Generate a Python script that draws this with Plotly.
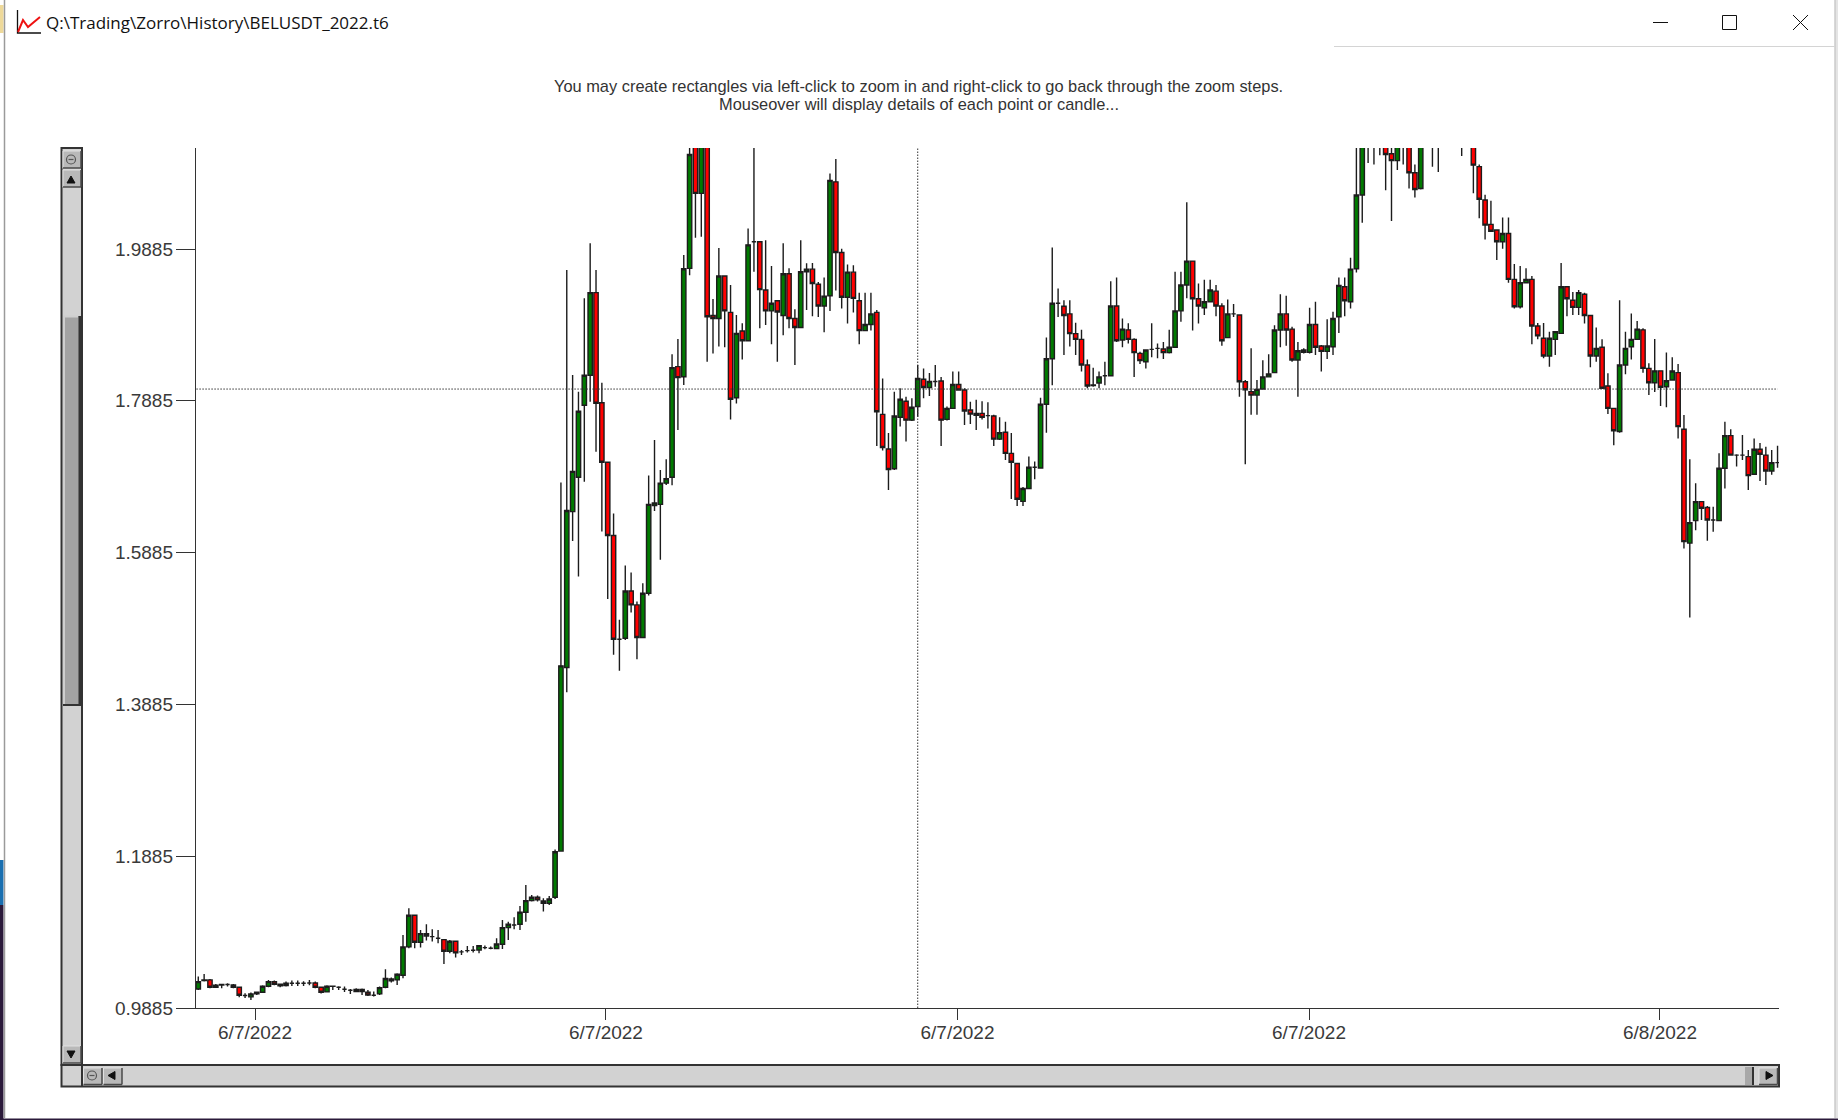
import plotly.graph_objects as go

title_text = r"Q:\Trading\Zorro\History\BELUSDT_2022.t6"
note_line1 = "You may create rectangles via left-click to zoom in and right-click to go back through the zoom steps."
note_line2 = "Mouseover will display details of each point or candle..."

y_tick_values = [0.9885, 1.1885, 1.3885, 1.5885, 1.7885, 1.9885]
y_tick_labels = ["0.9885", "1.1885", "1.3885", "1.5885", "1.7885", "1.9885"]
x_tick_values = [9.7, 69.7, 129.8, 189.9, 249.9]
x_tick_labels = ["6/7/2022", "6/7/2022", "6/7/2022", "6/7/2022", "6/8/2022"]
crosshair_bar = 123
crosshair_price = 1.804

opens = [
1.0136,1.0246,1.0255,1.0158,1.0189,1.0194,1.0189,1.0158,1.0049,1.0031,
1.0071,1.0093,1.0172,1.0233,1.0198,1.018,1.0211,1.0211,1.0211,1.0215,
1.0215,1.0158,1.0097,1.0172,1.0158,1.0132,1.0119,1.0101,1.0128,1.0093,
1.0053,1.0071,1.0158,1.0268,1.0255,1.0316,1.069,1.1107,1.0751,1.0865,
1.0826,1.0804,1.0786,1.0633,1.0764,1.0624,1.0641,1.0646,1.065,1.0681,
1.0672,1.0668,1.0725,1.0944,1.0979,1.0988,1.1146,1.13,1.1344,1.1295,
1.1265,1.1344,1.1952,1.4371,1.6425,1.6877,1.7826,1.8221,1.931,1.786,
1.7075,1.611,1.4744,1.4757,1.538,1.5196,1.4766,1.535,1.6505,1.652,
1.680,1.6877,1.8335,1.8203,1.963,2.14,2.0618,2.14,1.901,1.897,
1.953,1.905,1.7926,1.8805,1.8677,1.998,1.998,1.9345,1.907,1.9204,
1.901,1.956,1.897,1.885,1.9586,1.962,1.942,1.9134,1.927,2.077,
1.984,1.925,1.958,1.9204,1.881,1.889,1.905,1.7707,1.725,1.699,
1.7668,1.788,1.763,1.781,1.817,1.806,1.814,1.8146,1.764,1.7786,
1.81,1.8027,1.7764,1.7694,1.772,1.769,1.7685,1.738,1.747,1.7193,
1.706,1.656,1.673,1.701,1.70,1.784,1.844,1.917,1.913,1.903,
1.877,1.8695,1.8357,1.8094,1.812,1.8215,1.8216,1.9134,1.8686,1.882,
1.8695,1.851,1.84,1.8563,1.8576,1.8567,1.852,1.859,1.907,1.941,
1.9726,1.923,1.9112,1.919,1.933,1.9134,1.8717,1.903,1.9015,1.8137,
1.8005,1.796,1.804,1.82,1.8256,1.8818,1.903,1.883,1.8423,1.8554,
1.8524,1.889,1.8607,1.8537,1.8598,1.8993,1.9388,1.919,1.9625,2.0596,
2.14,2.14,2.14,2.14,2.114,2.105,2.14,2.14,2.089,2.0683,
2.14,2.14,2.14,2.14,2.14,2.14,2.14,2.14,2.14,2.097,
2.053,2.021,2.0135,1.998,2.009,1.9485,1.9125,1.944,1.9485,1.887,
1.871,1.8475,1.8695,1.8774,1.9388,1.921,1.9116,1.929,1.901,1.8475,
1.859,1.808,1.7786,1.748,1.8357,1.8598,1.8695,1.882,1.8313,1.8124,
1.828,1.807,1.816,1.8256,1.751,1.601,1.6307,1.6557,1.648,1.6315,
1.6307,1.6996,1.7426,1.717,1.717,1.715,1.6917,1.7246,1.717,1.696,1.707]

closes = [
1.0233,1.0255,1.0158,1.0185,1.0194,1.0194,1.0158,1.0053,1.0049,1.0071,
1.0093,1.0172,1.0233,1.0198,1.0176,1.0211,1.0211,1.0211,1.0211,1.0215,
1.0158,1.0093,1.0172,1.017,1.0158,1.0132,1.0119,1.0128,1.0101,1.0057,
1.0053,1.0154,1.0273,1.0242,1.033,1.069,1.1107,1.0751,1.0865,1.0834,
1.0826,1.0804,1.0633,1.0764,1.0611,1.0624,1.0641,1.0646,1.0707,1.0681,
1.0672,1.0729,1.0944,1.0988,1.0979,1.1146,1.13,1.1344,1.1309,1.1265,
1.1322,1.1943,1.4393,1.6439,1.6956,1.7747,1.8221,1.931,1.7852,1.7075,
1.611,1.4744,1.4744,1.538,1.5196,1.4766,1.535,1.652,1.654,1.680,
1.686,1.8322,1.819,1.9625,2.1131,2.0618,2.14,1.8993,1.897,1.953,
1.907,1.7905,1.8774,1.8677,1.994,1.998,1.935,1.907,1.917,1.9055,
1.956,1.897,1.885,1.9586,1.962,1.943,1.9134,1.9265,2.079,1.984,
1.925,1.958,1.9235,1.881,1.889,1.903,1.774,1.727,1.698,1.7685,
1.7905,1.763,1.780,1.818,1.806,1.814,1.814,1.763,1.7786,1.81,
1.8027,1.775,1.771,1.772,1.7667,1.769,1.738,1.7465,1.7193,1.7075,
1.6588,1.673,1.701,1.701,1.784,1.844,1.917,1.917,1.901,1.877,
1.8695,1.8357,1.808,1.8086,1.82,1.8215,1.9134,1.8677,1.883,1.8695,
1.852,1.8414,1.8554,1.8563,1.8576,1.852,1.859,1.907,1.941,1.9726,
1.923,1.9134,1.919,1.9345,1.9134,1.8677,1.903,1.903,1.8137,1.803,
1.796,1.8036,1.82,1.8238,1.8818,1.903,1.8818,1.8423,1.8545,1.8524,
1.889,1.859,1.8537,1.8607,1.897,1.9406,1.9204,1.962,2.0596,2.14,
2.15,2.15,2.15,2.113,2.105,2.14,2.15,2.089,2.067,2.14,
2.15,2.15,2.15,2.15,2.15,2.15,2.15,2.15,2.099,2.054,
2.02,2.012,1.998,2.009,1.9485,1.9125,1.944,1.9485,1.887,1.874,
1.8475,1.871,1.8796,1.9388,1.923,1.9116,1.931,1.901,1.8475,1.8576,
1.805,1.7786,1.749,1.8357,1.8576,1.8695,1.883,1.8313,1.8124,1.828,
1.8063,1.815,1.8278,1.7545,1.603,1.628,1.6557,1.647,1.6315,1.6315,
1.6996,1.7426,1.717,1.717,1.717,1.69,1.7246,1.718,1.696,1.707,1.707]

highs = [
1.0299,1.0334,1.0268,1.0202,1.0202,1.0211,1.0202,1.0167,1.008,1.0088,
1.0101,1.0185,1.0255,1.0246,1.0207,1.0233,1.0246,1.0246,1.0237,1.0255,
1.0233,1.0167,1.0185,1.018,1.0172,1.0167,1.0136,1.0145,1.0141,1.0123,
1.0101,1.0167,1.0396,1.0286,1.0343,1.0848,1.1199,1.1111,1.0913,1.0988,
1.0922,1.0913,1.0791,1.0782,1.0773,1.065,1.0703,1.0703,1.0716,1.0707,
1.0694,1.0804,1.1045,1.1023,1.108,1.123,1.1506,1.1374,1.1366,1.1331,
1.1361,1.1972,1.681,1.961,1.8225,1.8006,1.9235,1.996,1.961,1.8124,
1.7084,1.64,1.5,1.5714,1.5622,1.524,1.548,1.690,1.737,1.6974,
1.7115,1.8497,1.870,1.9805,2.125,2.16,2.16,2.16,1.9226,1.990,
1.953,1.941,1.9015,1.8906,2.0157,2.125,1.999,2.000,1.966,1.9204,
1.996,1.963,1.909,2.000,1.9696,1.97,1.945,1.951,2.088,2.107,
1.989,1.968,1.967,1.931,1.931,1.931,1.908,1.818,1.746,1.8006,
1.805,1.794,1.792,1.8357,1.831,1.825,1.8357,1.82,1.781,1.827,
1.827,1.805,1.7874,1.790,1.788,1.7865,1.770,1.7667,1.761,1.746,
1.706,1.675,1.715,1.7084,1.7926,1.872,1.9906,1.9366,1.921,1.921,
1.8914,1.882,1.843,1.832,1.827,1.84,1.946,1.951,1.897,1.8906,
1.871,1.853,1.856,1.8906,1.864,1.866,1.882,1.9586,1.9586,2.05,
1.9726,1.943,1.948,1.948,1.941,1.917,1.922,1.916,1.9015,1.816,
1.8576,1.816,1.842,1.85,1.888,1.929,1.927,1.886,1.866,1.8576,
1.911,1.919,1.862,1.896,1.906,1.951,1.951,1.977,2.125,2.16,
2.17,2.17,2.17,2.16,2.16,2.16,2.17,2.16,2.1,2.16,
2.17,2.17,2.17,2.17,2.17,2.17,2.17,2.17,2.16,2.10,
2.06,2.052,2.014,2.03,2.03,1.9687,1.966,1.963,1.953,1.891,
1.891,1.8796,1.8796,1.970,1.9388,1.932,1.9345,1.931,1.901,1.885,
1.8695,1.8247,1.7786,1.921,1.8796,1.9037,1.8936,1.884,1.838,1.870,
1.828,1.852,1.846,1.837,1.7698,1.7115,1.68,1.6557,1.650,1.649,
1.7193,1.761,1.751,1.718,1.7435,1.7237,1.739,1.733,1.728,1.7237,1.7294]

lows = [
1.0123,1.0233,1.0145,1.0154,1.0145,1.0167,1.0145,1.0027,1.0018,0.9992,
1.0057,1.0084,1.0158,1.0185,1.0158,1.0167,1.0176,1.0176,1.0176,1.0185,
1.0145,1.0075,1.0088,1.0123,1.0123,1.0097,1.0071,1.0093,1.0057,1.0044,
1.0036,1.0057,1.0145,1.022,1.0189,1.0277,1.0672,1.0672,1.0681,1.0773,
1.076,1.0738,1.0466,1.0606,1.0549,1.0584,1.0615,1.0615,1.0606,1.0659,
1.0659,1.0659,1.0663,1.0782,1.0922,1.0913,1.1023,1.1287,1.1287,1.1155,
1.1243,1.132,1.1945,1.4046,1.6039,1.557,1.682,1.7874,1.7215,1.6162,
1.5275,1.4538,1.4327,1.4735,1.5095,1.448,1.476,1.532,1.6434,1.579,
1.6776,1.6772,1.750,1.8093,1.954,2.0034,2.0047,1.840,1.851,1.860,
1.859,1.764,1.785,1.843,1.867,1.9586,1.884,1.8884,1.863,1.84,
1.875,1.884,1.8357,1.884,1.908,1.90,1.899,1.879,1.907,1.934,
1.910,1.8905,1.905,1.863,1.880,1.881,1.729,1.723,1.671,1.6974,
1.7545,1.735,1.762,1.7676,1.792,1.795,1.807,1.729,1.7625,1.778,
1.802,1.7566,1.758,1.750,1.764,1.752,1.729,1.737,1.7106,1.659,
1.65,1.65,1.673,1.685,1.699,1.7465,1.809,1.899,1.849,1.86,
1.849,1.827,1.805,1.807,1.805,1.809,1.821,1.866,1.859,1.864,
1.82,1.837,1.831,1.8458,1.8445,1.8436,1.851,1.859,1.8927,1.9235,
1.881,1.8905,1.9015,1.918,1.90,1.861,1.871,1.899,1.794,1.705,
1.77,1.77,1.803,1.82,1.8256,1.859,1.861,1.84,1.794,1.851,
1.851,1.849,1.827,1.8436,1.849,1.878,1.90,1.91,1.9577,2.023,
2.102,2.10,2.112,2.066,2.0253,2.0925,2.10,2.0683,2.0565,2.067,
2.13,2.097,2.09,2.13,2.13,2.13,2.111,2.13,2.062,2.029,
2.001,2.011,1.974,1.989,1.944,1.91,1.91,1.943,1.863,1.8695,
1.8445,1.8335,1.849,1.8765,1.90,1.9015,1.9015,1.8905,1.8326,1.84,
1.805,1.771,1.730,1.7465,1.8234,1.843,1.8686,1.8256,1.796,1.80,
1.7817,1.78,1.815,1.739,1.594,1.503,1.618,1.6315,1.604,1.616,
1.6307,1.673,1.717,1.702,1.7106,1.671,1.691,1.683,1.6776,1.691,1.7004]

assert len(opens) == len(closes) == len(highs) == len(lows)
bars = list(range(len(opens)))

# ---- page geometry (window furniture only; the marks go through the axes) ----
W, H = 1838, 1120
L, R, T, B = 196, 1779, 148, 1008
def px(x): return (x - L) / (R - L)
def py(y): return (B - y) / (B - T)

shapes = []
def rect(x0, y0, x1, y1, fill, line=None, lw=1):
    shapes.append(dict(type="rect", xref="paper", yref="paper", x0=px(x0), x1=px(x1), y0=py(y0), y1=py(y1),
                       fillcolor=fill, line=dict(color=line or fill, width=lw if line else 0)))
def seg(x0, y0, x1, y1, color, lw=1):
    shapes.append(dict(type="line", xref="paper", yref="paper", x0=px(x0), x1=px(x1), y0=py(y0), y1=py(y1),
                       line=dict(color=color, width=lw)))
def poly(points, fill=None, color=None, lw=1):
    d = "M" + " L".join(f"{px(a):.5f},{py(b):.5f}" for a, b in points)
    if fill:
        d += " Z"
    shapes.append(dict(type="path", xref="paper", yref="paper", path=d, fillcolor=fill or "rgba(0,0,0,0)",
                       line=dict(color=color or fill, width=lw)))
def circ(cx, cy, r, color, lw=1):
    shapes.append(dict(type="circle", xref="paper", yref="paper", x0=px(cx-r), x1=px(cx+r), y0=py(cy-r), y1=py(cy+r),
                       fillcolor="rgba(0,0,0,0)", line=dict(color=color, width=lw)))
def button(x0, y0, x1, y1):
    rect(x0, y0, x1, y1, "#b9b9b9")
    seg(x0, y0, x1, y0, "#e2e2e2", 1)
    seg(x0, y0, x0, y1, "#e2e2e2", 1)
    seg(x0, y1, x1, y1, "#4a4a4a", 1.5)
    seg(x1, y0, x1, y1, "#4a4a4a", 1.5)

# desktop slivers and window edge
rect(0, 5, 3.5, 33, "#eed99a")
rect(0, 860, 3.5, 905, "#1a6fb0")
rect(0, 905, 3.5, 1120, "#2b1a3a")
rect(0, 1118.5, 1838, 1120, "#2b1a3a")
rect(1835.5, 0, 1838, 1118, "#e4e4e4")
seg(4.5, 0, 4.5, 1118, "#9a9a9a", 1.5)
seg(1835, 0, 1835, 1118, "#b0b0b0", 1)
seg(1334, 46.5, 1835, 46.5, "#d4d4d4", 1)

# title bar
poly([(17.5, 10), (17.5, 33), (41, 33)], color="#111111", lw=1.3)
poly([(18, 32), (23, 20), (28, 27), (40, 17)], color="#ee1111", lw=2)
seg(1653, 22.5, 1668, 22.5, "#111111", 1)
rect(1722.5, 15.5, 1736.5, 29.5, "rgba(0,0,0,0)", "#111111", 1)
seg(1793, 15, 1808, 30, "#111111", 1)
seg(1808, 15, 1793, 30, "#111111", 1)

# vertical scroll bar
rect(61.5, 148, 82, 1065, "#d2d2d2", "#333333", 2)
button(63, 151, 81, 168)
circ(71, 159.5, 4.5, "#555555", 1.2)
seg(68.5, 159.5, 73.5, 159.5, "#555555", 1.2)
button(63, 170, 81, 187)
poly([(67, 183), (75, 183), (71, 176)], fill="#111111")
rect(63, 316, 81, 705, "#a3a3a3")
seg(63.5, 316.5, 78, 316.5, "#cfcfcf", 2)
seg(64, 316, 64, 705, "#cfcfcf", 2)
seg(80, 316, 80, 705, "#333333", 3)
seg(63, 705, 81, 705, "#333333", 2)
button(63, 1046, 81, 1063)
poly([(67, 1051), (75, 1051), (71, 1058)], fill="#111111")

# horizontal scroll bar
rect(61.5, 1065, 1779, 1086.5, "#d2d2d2", "#333333", 2)
seg(82, 1065, 82, 1087, "#333333", 2)
button(83.5, 1068, 102, 1084.5)
circ(92, 1075.5, 4.5, "#555555", 1.2)
seg(89.5, 1075.5, 94.5, 1075.5, "#555555", 1.2)
button(103.5, 1068, 122, 1084.5)
poly([(108, 1075.5), (115, 1071.5), (115, 1079.5)], fill="#111111")
rect(1745, 1067, 1753, 1085, "#a8a8a8")
seg(1753, 1067, 1753, 1085, "#333333", 2)
button(1759, 1068, 1777.5, 1084.5)
poly([(1773, 1075.5), (1766, 1071.5), (1766, 1079.5)], fill="#111111")

# crosshair, placed through the axes
dot = "1.5px,1.5px"
shapes.append(dict(type="line", xref="x", yref="y", x0=bars[0]-0.33, x1=bars[-1], y0=crosshair_price, y1=crosshair_price,
                   line=dict(color="#333333", width=1, dash=dot), layer="above"))
shapes.append(dict(type="line", xref="x", yref="paper", x0=crosshair_bar, x1=crosshair_bar, y0=0, y1=1,
                   line=dict(color="#333333", width=1, dash=dot), layer="above"))

fig = go.Figure(go.Candlestick(
    x=bars, open=opens, high=highs, low=lows, close=closes,
    increasing=dict(fillcolor="#007a00", line=dict(color="#1c1c1c", width=1.4)),
    decreasing=dict(fillcolor="#ff0000", line=dict(color="#1c1c1c", width=1.4)),
    showlegend=False,
))

tick_font = dict(family="Liberation Sans", size=19, color="#3a3a3a")
fig.update_layout(
    width=W, height=H, autosize=False,
    margin=dict(l=L, r=W - R, t=T, b=H - B, pad=0),
    paper_bgcolor="white", plot_bgcolor="white",
    boxgap=0.26, boxgroupgap=0,
    shapes=shapes,
    xaxis=dict(type="linear", range=[-0.39, 270.25], rangeslider=dict(visible=False),
               tickmode="array", tickvals=x_tick_values, ticktext=x_tick_labels,
               ticks="outside", ticklen=11, tickwidth=1.3, tickcolor="#333333",
               showgrid=False, zeroline=False, showline=True, linecolor="#333333", linewidth=1.4,
               tickfont=tick_font, tickangle=0, ticklabelstandoff=-4),
    yaxis=dict(type="linear", range=[0.9885, 2.1216],
               tickmode="array", tickvals=y_tick_values, ticktext=y_tick_labels,
               ticks="outside", ticklen=19, tickwidth=1.3, tickcolor="#333333",
               showgrid=False, zeroline=False, showline=True, linecolor="#333333", linewidth=1.4,
               tickfont=tick_font, ticklabelstandoff=-1),
    annotations=[
        dict(text=title_text, xref="paper", yref="paper", x=px(44), y=py(23), xanchor="left", yanchor="middle",
             showarrow=False, font=dict(family="Open Sans", size=17, color="#111111")),
        dict(text=note_line1, xref="paper", yref="paper", x=px(918.5), y=py(86), xanchor="center", yanchor="middle",
             showarrow=False, font=dict(family="Liberation Sans", size=16.4, color="#333333")),
        dict(text=note_line2, xref="paper", yref="paper", x=px(918.5), y=py(104), xanchor="center", yanchor="middle",
             showarrow=False, font=dict(family="Liberation Sans", size=16.4, color="#333333")),
    ],
)

fig.write_html("out.html", config=dict(displayModeBar=False),
               post_script="document.body.style.margin='0';document.body.style.overflow='hidden';")
